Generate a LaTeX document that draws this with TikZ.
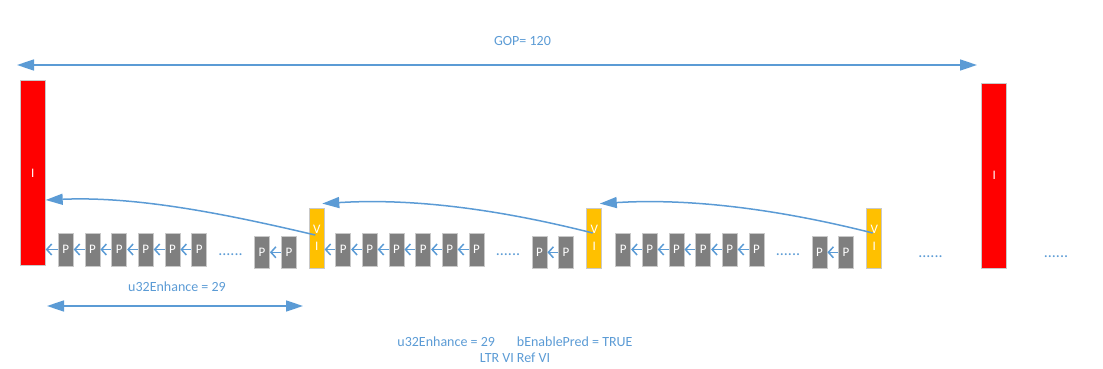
\documentclass[tikz,border=0pt]{standalone}
\usepackage{fontspec}
\setmainfont{Carlito}
\usetikzlibrary{arrows.meta}
\definecolor{lblue}{HTML}{5B9BD5}
\definecolor{pgray}{HTML}{7F7F7F}
\definecolor{vorange}{HTML}{FFC000}
\definecolor{bordgray}{HTML}{C9C9C9}
\tikzset{
  frame/.style={draw=bordgray, line width=0.8pt, inner sep=0pt, text=white, font=\fontsize{13}{17}\selectfont},
  ibox/.style={frame, fill=red, minimum width=25pt, minimum height=185pt},
  pbox/.style={frame, fill=pgray, minimum width=15pt, minimum height=33pt},
  pboxb/.style={frame, fill=pgray, minimum width=15pt, minimum height=31.5pt},
  vibox/.style={frame, fill=vorange, minimum width=15pt, minimum height=60pt, align=center},
  parrow/.style={lblue, line width=1.5pt, -{Straight Barb[length=5pt,width=11pt,line width=1.5pt]}},
  bigarrow/.style={lblue, line width=1.7pt, {Triangle[length=17pt,width=11pt]}-{Triangle[length=17pt,width=11pt]}},
  curvearrow/.style={lblue, line width=1.5pt, -{Triangle[length=17pt,width=11pt]}},
  lbl/.style={text=lblue, font=\fontsize{14}{16}\selectfont, inner sep=0pt},
  dots/.style={text=lblue, font=\fontsize{16}{16}\selectfont, inner sep=0pt, anchor=base}
}
\begin{document}
\begin{tikzpicture}[x=1pt,y=-1pt]
\useasboundingbox (0,0) rectangle (1103,369);
% big I frames
\node[ibox] (I1) at (32.8,173.3) {I};
\node[ibox] (I2) at (994.2,175.8) {I};
% VI frames
\node[vibox] (vi1) at (316.7,238) {V\\I};
\node[vibox] (vi2) at (594.2,238) {V\\I};
\node[vibox] (vi3) at (874.2,238) {V\\I};
% P frames
\foreach \x [count=\i] in {65.8,92.5,119.2,145.8,172.5,199.2}
  \node[pbox] (a\i) at (\x,249.5) {P};
\node[pboxb] (a7) at (262,252.3) {P};
\node[pboxb] (a8) at (289,252.3) {P};
\foreach \x [count=\i] in {343.2,369.8,396.5,423.2,449.8,476.5}
  \node[pbox] (b\i) at (\x,249.5) {P};
\node[pboxb] (b7) at (539.5,252.3) {P};
\node[pboxb] (b8) at (566,252.3) {P};
\foreach \x [count=\i] in {623.2,649.8,676.5,703.2,729.8,756.5}
  \node[pbox] (c\i) at (\x,249.5) {P};
\node[pboxb] (c7) at (819.5,252.3) {P};
\node[pboxb] (c8) at (846,252.3) {P};
% dots
\node[dots] (d1) at (230.5,255) {......};
\node[dots] (d2) at (508,255) {......};
\node[dots] (d3) at (788,255) {......};
\node[dots] (d4) at (930.5,257) {......};
\node[dots] (d5) at (1056,257) {......};
% P arrows
\foreach \s in {a,b,c}{
  \foreach \i/\j in {2/1,3/2,4/3,5/4,6/5,8/7}
    \draw[parrow] (\s\i.west) -- (\s\j.east);
}
\draw[parrow] (a1.west) -- (a1.west -| I1.east);
\draw[parrow] (b1.west) -- (b1.west -| vi1.east);
% reference curves
\coordinate (t1) at ([yshift=-26.7pt]I1.east);
\coordinate (t2) at ([xshift=-2.3pt,yshift=4pt]vi1.north east);
\coordinate (t3) at ([xshift=-2.3pt,yshift=4pt]vi2.north east);
\draw[curvearrow] ([xshift=-1.5pt,yshift=3pt]vi1.center) .. controls +(-85,-20) and +(93,-4) .. (t1);
\draw[curvearrow] ([xshift=-1.5pt,yshift=5pt]vi2.center) .. controls +(-83,-21) and +(98,-6) .. (t2);
\draw[curvearrow] ([xshift=-1.5pt,yshift=5pt]vi3.center) .. controls +(-83,-21) and +(98,-6) .. (t3);
% GOP arrow
\coordinate (g1) at (17,65);
\coordinate (g2) at (977,65);
\draw[bigarrow] (g1) -- (g2);
\node[lbl, anchor=base] (gop) at (522.5,45.2) {GOP= 120};
% u32Enhance arrow
\coordinate (e1) at (47,306);
\coordinate (e2) at (303,306);
\draw[bigarrow] (e1) -- (e2);
\node[lbl, anchor=base] (enh) at (177,291.5) {u32Enhance = 29};
\node[lbl, anchor=base, align=center] (info) at (515,362.5) {u32Enhance = 29\hspace{22pt}bEnablePred = TRUE\\LTR VI Ref VI};
\end{tikzpicture}
\end{document}
